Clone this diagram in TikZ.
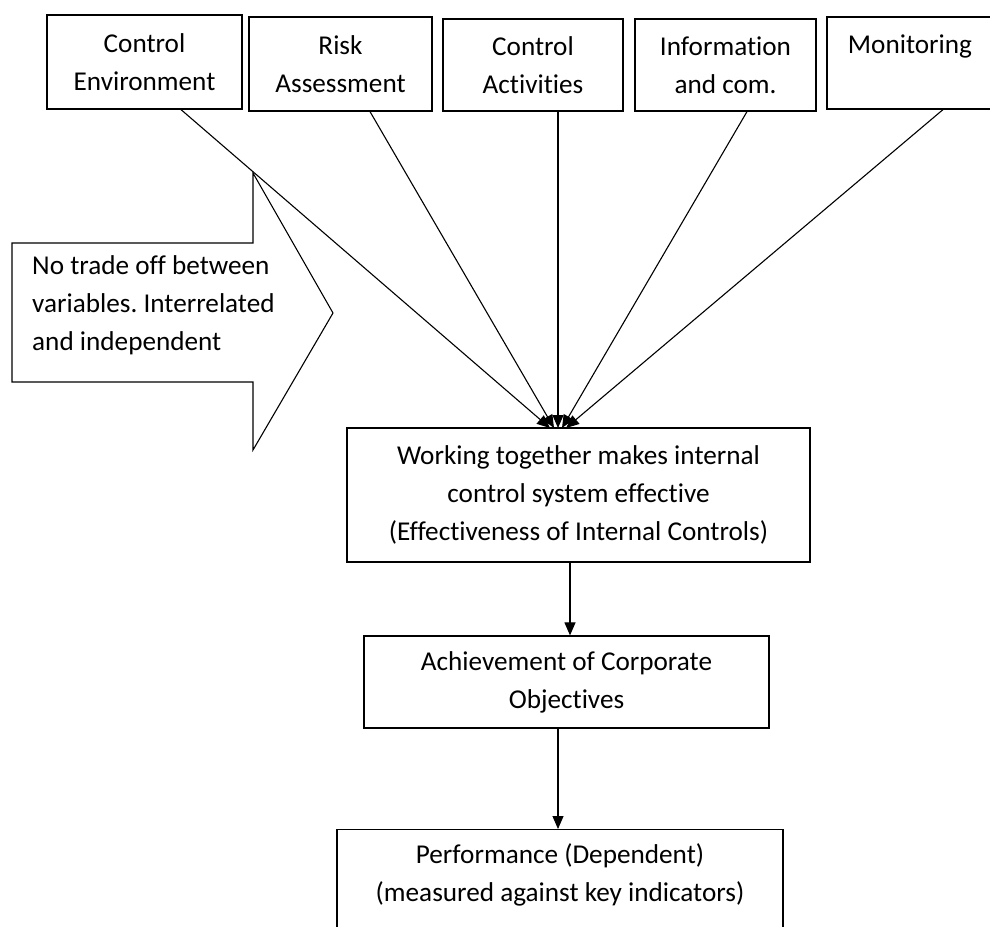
\documentclass[tikz,border=0pt]{standalone}
\usepackage{fontspec}
\setmainfont{Carlito}[Ligatures={NoCommon,NoContextual}]
\usetikzlibrary{arrows.meta}
\frenchspacing
\begin{document}
\begin{tikzpicture}[x=1pt,y=-1pt,
  box/.style={draw, line width=1.2pt, inner sep=0pt, align=center, font=\fontsize{27.2}{38}\selectfont},
  txt/.style={inner sep=0pt, font=\fontsize{27.2}{38}\selectfont},
  conn/.style={line width=1.1pt, -{Triangle[width=11pt,length=13pt]}},
  shapeline/.style={line width=1.1pt, line join=miter},
]
\clip (0,0) rectangle (990,926);
% top boxes
\node[box, minimum width=195pt, minimum height=94pt] (ce) at (144.5,62) {Control\\Environment};
\node[box, minimum width=183pt, minimum height=94pt] (ra) at (340.5,64) {Risk\\Assessment};
\node[box, minimum width=180pt, minimum height=92pt] (ca) at (533,65) {Control\\Activities};
\node[box, minimum width=181pt, minimum height=92pt] (ic) at (725.5,65) {Information\\and com.};
\node[box, minimum width=166pt, minimum height=92pt] (mon) at (910,63) {Monitoring\\\mbox{}};
% lower boxes
\node[box, minimum width=463pt, minimum height=134pt] (work) at (578.5,495) {Working together makes internal\\control system effective\\(Effectiveness of Internal Controls)};
\node[box, minimum width=405pt, minimum height=92pt] (ach) at (566.5,682) {Achievement of Corporate\\Objectives};
\node[box, minimum width=446pt, minimum height=150pt, anchor=north] (perf) at (560,829) {};
\node[txt, align=center, anchor=north] (perftext) at (560,843) {Performance (Dependent)\\(measured against key indicators)};
% block arrow
\draw[shapeline] (12,243) -- (253,243) -- (253,173) -- (333,313) -- (253,450) -- (253,382) -- (12,382) -- cycle;
\node[txt, align=left, anchor=west] (note) at (32,305) {No trade off between\\variables. Interrelated\\and independent};
% connectors
\coordinate (e1) at (550,428);
\coordinate (e2) at (554,428);
\coordinate (e3) at (558,428);
\coordinate (e4) at (562,428);
\coordinate (e5) at (566,428);
\draw[conn] (181,0 |- ce.south) -- (e1);
\draw[conn] (370,0 |- ra.south) -- (e2);
\draw[conn] (558,0 |- ca.south) -- (e3);
\draw[conn] (747,0 |- ic.south) -- (e4);
\draw[conn] (943,0 |- mon.south) -- (e5);
\draw[conn] (570,0 |- work.south) -- (570,0 |- ach.north);
\draw[conn] (558,0 |- ach.south) -- (558,0 |- perf.north);
\end{tikzpicture}
\end{document}
